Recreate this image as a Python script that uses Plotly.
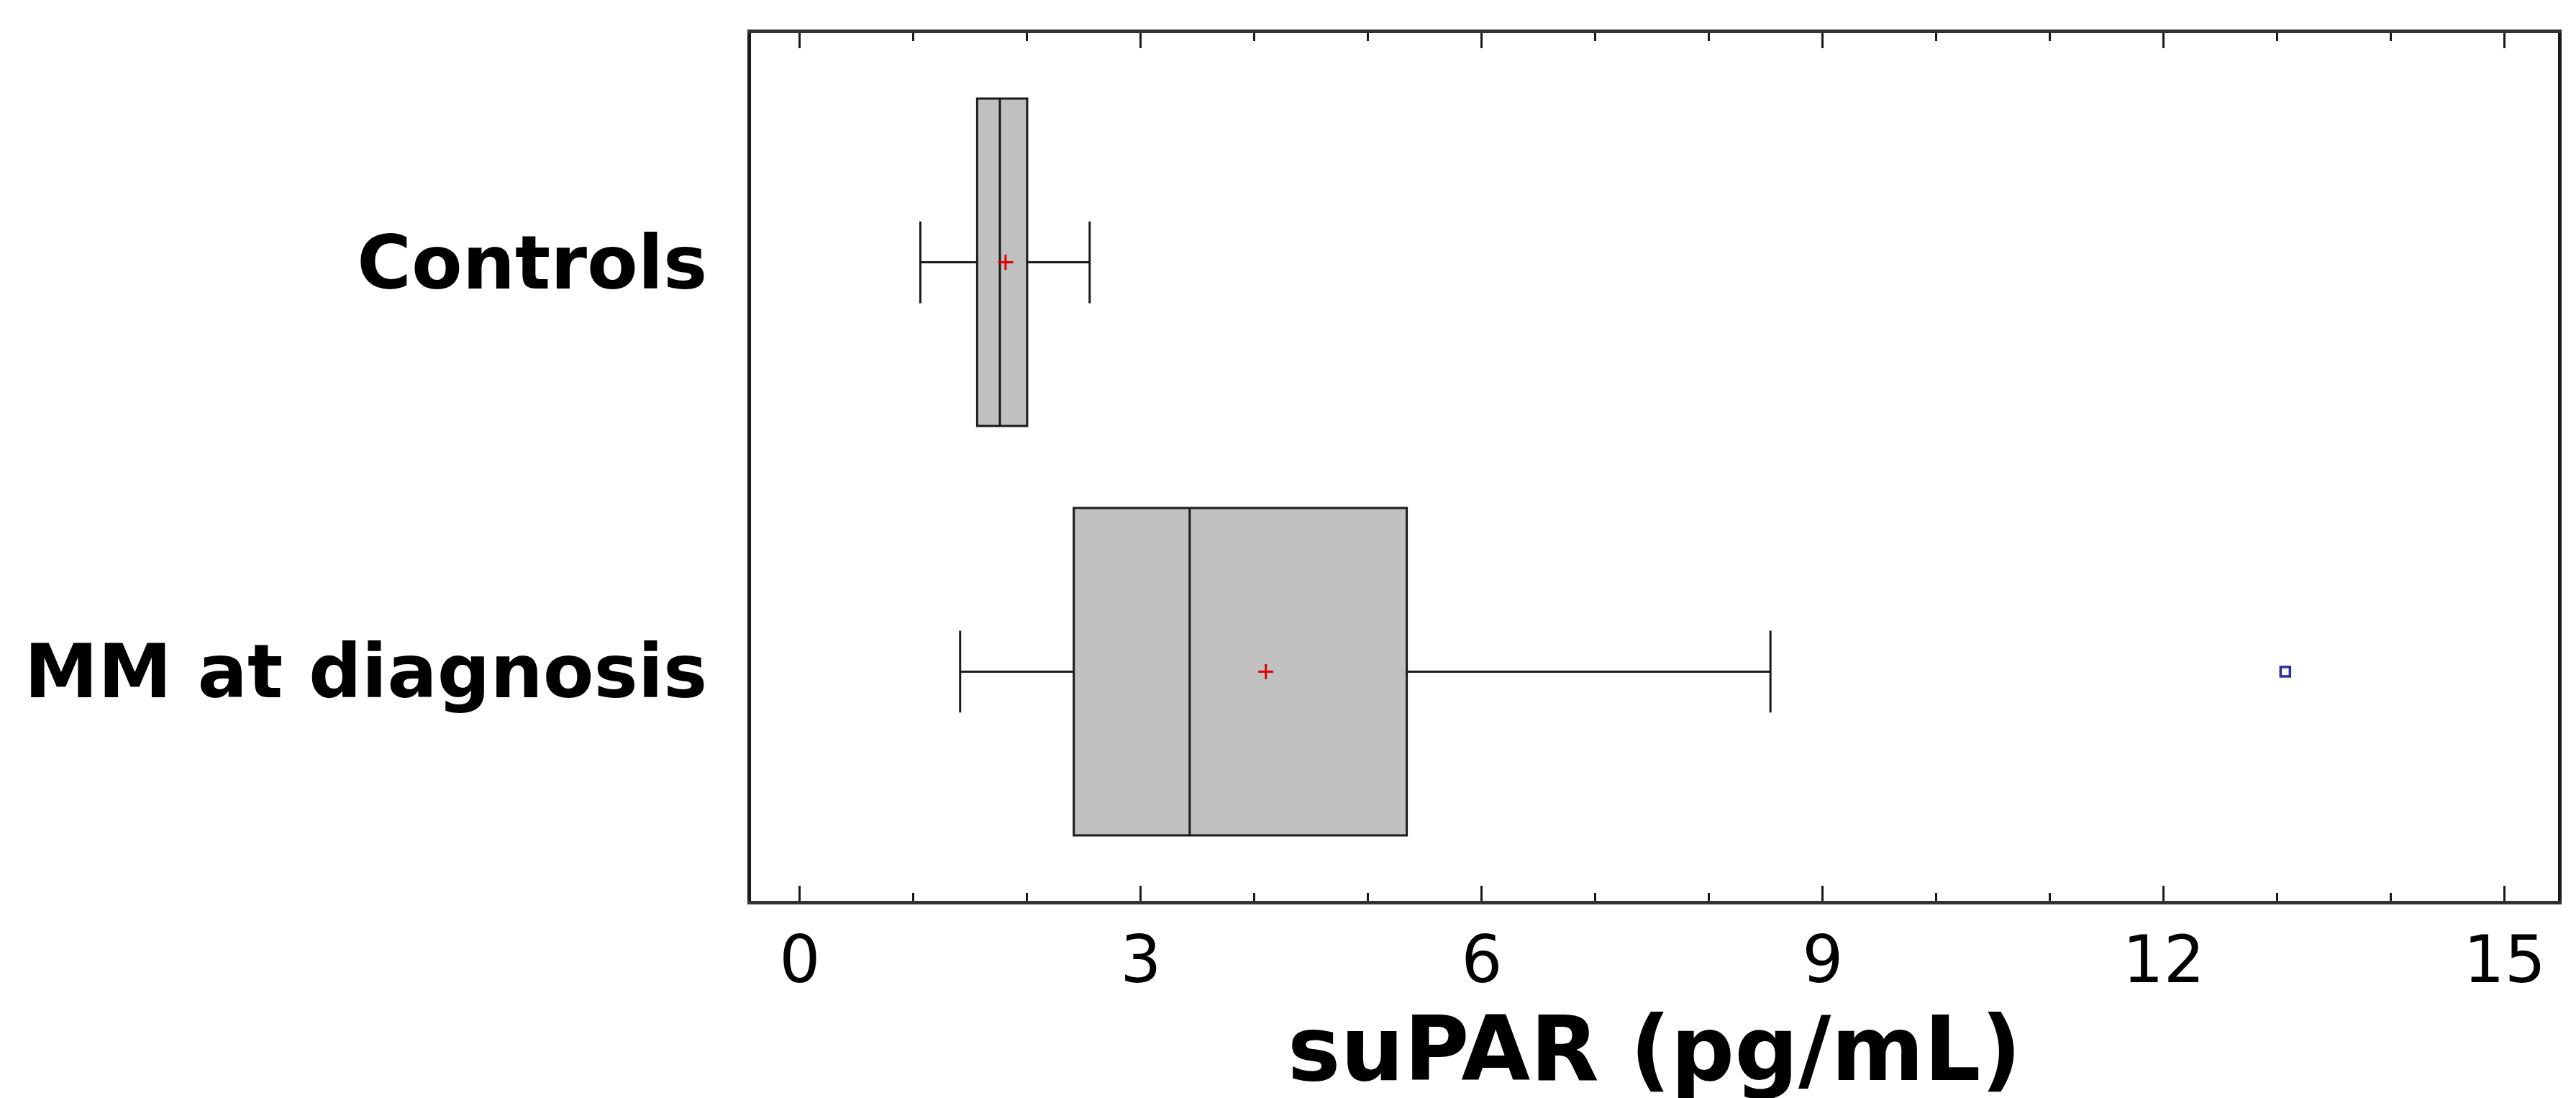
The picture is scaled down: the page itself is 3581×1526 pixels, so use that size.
import plotly.graph_objects as go

# ---- data ----
groups = ["Controls", "MM at diagnosis"]
q1_vals = [1.56, 2.41]
median_vals = [1.76, 3.43]
q3_vals = [2.00, 5.34]
lower_whisker = [1.06, 1.41]
upper_whisker = [2.55, 8.54]
mean_vals = [1.81, 4.10]
outlier_group = ["MM at diagnosis"]
outlier_vals = [13.07]
x_ticks = [0, 3, 6, 9, 12, 15]

FONT = "DejaVu Sans, Liberation Sans, Arial"

fig = go.Figure()

fig.add_trace(go.Box(
    orientation="h",
    y=groups,
    q1=q1_vals,
    median=median_vals,
    q3=q3_vals,
    lowerfence=lower_whisker,
    upperfence=upper_whisker,
    boxpoints=False,
    width=0.8,
    whiskerwidth=0.25,
    fillcolor="#C0C0C0",
    line=dict(color="#1a1a1a", width=3),
    showlegend=False,
    hoverinfo="skip",
))

fig.add_trace(go.Scatter(
    x=mean_vals, y=groups, mode="markers",
    marker=dict(symbol="cross-thin", size=15, line=dict(color="#E00000", width=3)),
    showlegend=False, hoverinfo="skip",
))

fig.add_trace(go.Scatter(
    x=outlier_vals, y=outlier_group, mode="markers",
    marker=dict(symbol="square-open", size=13, color="#2E2E9E", line=dict(color="#2E2E9E", width=3.5)),
    showlegend=False, hoverinfo="skip",
))

fig.update_layout(
    width=3581, height=1526,
    margin=dict(l=1036, r=33, t=38, b=282, autoexpand=False),
    paper_bgcolor="white", plot_bgcolor="white",
    font=dict(family=FONT, color="black"),
    showlegend=False,
)

fig.update_xaxes(
    range=[-0.43, 15.47],
    tickvals=x_ticks,
    ticktext=[str(v) for v in x_ticks],
    ticks="inside", ticklen=21, tickwidth=3, tickcolor="#1a1a1a",
    minor=dict(dtick=1, tick0=0, ticks="inside", ticklen=11, tickwidth=3, tickcolor="#1a1a1a", showgrid=False),
    showline=True, linecolor="#333333", linewidth=5, mirror="allticks",
    showgrid=False, zeroline=False,
    tickfont=dict(family=FONT, size=90, color="black"),
    title=dict(text="suPAR (pg/mL)", font=dict(family=FONT, size=124, color="black", weight="bold"), standoff=18),
    automargin=False,
)

fig.update_yaxes(
    type="category",
    categoryorder="array", categoryarray=groups,
    range=[1.56, -0.56],
    showline=True, linecolor="#1a1a1a", linewidth=5, mirror=True,
    ticks="", showgrid=False, zeroline=False,
    tickfont=dict(family=FONT, size=103, color="black", weight="bold"),
    ticklabelstandoff=35,
    automargin=False,
)

fig.write_html("out.html")
